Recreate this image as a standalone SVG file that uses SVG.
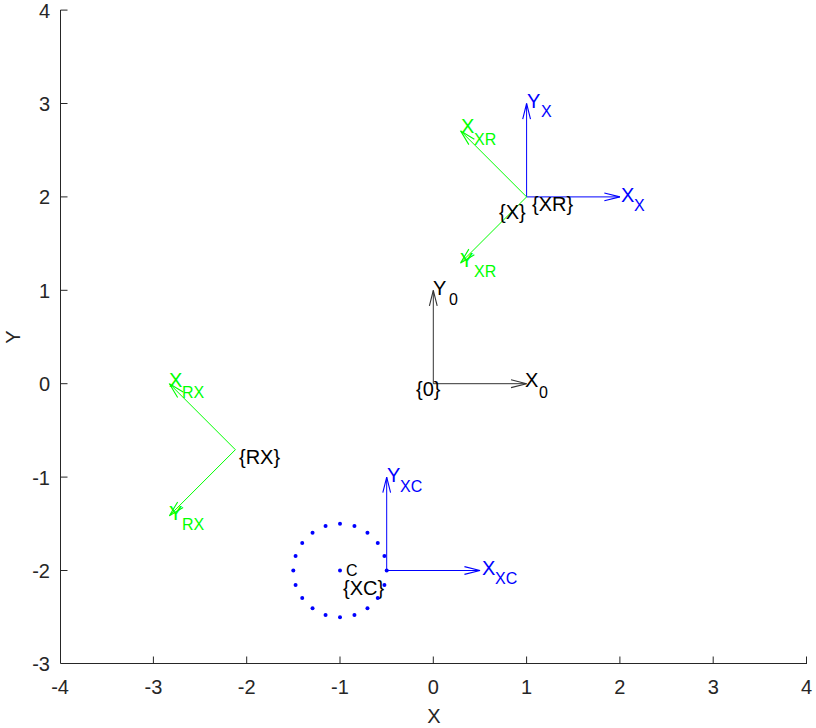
<svg xmlns="http://www.w3.org/2000/svg" width="816" height="728" viewBox="0 0 816 728">
<style>
text{font-family:"Liberation Sans",Arial,sans-serif;}
.tick{font-size:20px;fill:#262626;}
.ax{stroke:#262626;stroke-width:1;fill:none;}
.lbl{font-size:20px;}
.sub{font-size:16px;}
.k{fill:#000;}
.b{fill:#0000ff;}
.g{fill:#00ff00;}
.lk{stroke:#333;stroke-width:1;fill:none;marker-end:url(#ak);}
.lb{stroke:#0000ff;stroke-width:1;fill:none;marker-end:url(#ab);}
.lg{stroke:#00ff00;stroke-width:1;fill:none;marker-end:url(#ag);}
.dot{fill:#0000ff;}
</style>
<defs>
<marker id="ak" markerUnits="userSpaceOnUse" markerWidth="20" markerHeight="20" viewBox="-16 -6 18 12" refX="0" refY="0" orient="auto"><path d="M-14,-3.5 L0,0 L-14,3.5" fill="none" stroke="#333" stroke-width="1"/></marker>
<marker id="ab" markerUnits="userSpaceOnUse" markerWidth="20" markerHeight="20" viewBox="-16 -6 18 12" refX="0" refY="0" orient="auto"><path d="M-14,-3.5 L0,0 L-14,3.5" fill="none" stroke="#0000ff" stroke-width="1"/></marker>
<marker id="ag" markerUnits="userSpaceOnUse" markerWidth="20" markerHeight="20" viewBox="-16 -6 18 12" refX="0" refY="0" orient="auto"><path d="M-14,-3.5 L0,0 L-14,3.5" fill="none" stroke="#00ff00" stroke-width="1"/></marker>
</defs>
<rect width="816" height="728" fill="#fff"/>
<g id="axes">
<path class="ax" d="M60.5,10 V663.5 H807"/>
<path class="ax" d="M153.4,663.5 v-7 M246.7,663.5 v-7 M340,663.5 v-7 M433.3,663.5 v-7 M526.6,663.5 v-7 M619.9,663.5 v-7 M713.2,663.5 v-7 M806.5,663.5 v-7"/>
<path class="ax" d="M60.5,10.1 h7 M60.5,103.5 h7 M60.5,196.9 h7 M60.5,290.3 h7 M60.5,383.7 h7 M60.5,477.1 h7 M60.5,570.5 h7"/>
<g class="tick" text-anchor="middle">
<text x="60.1" y="694">-4</text><text x="153.4" y="694">-3</text><text x="246.7" y="694">-2</text><text x="340" y="694">-1</text><text x="433.3" y="694">0</text><text x="526.6" y="694">1</text><text x="619.9" y="694">2</text><text x="713.2" y="694">3</text><text x="806.5" y="694">4</text>
</g>
<g class="tick" text-anchor="end">
<text x="50" y="671.4">-3</text><text x="50" y="578">-2</text><text x="50" y="484.6">-1</text><text x="50" y="391.2">0</text><text x="50" y="297.8">1</text><text x="50" y="204.4">2</text><text x="50" y="111">3</text><text x="50" y="17.6">4</text>
</g>
<text class="tick" x="434" y="723" text-anchor="middle">X</text>
<text class="tick" transform="translate(20,337) rotate(-90)" text-anchor="middle">Y</text>
</g>
<g id="connectors">
<path class="lk" d="M433.3,383.7 H526.6"/>
<path class="lk" d="M433.3,383.7 V290.3"/>
<path class="lb" d="M526.6,196.9 H619.9"/>
<path class="lb" d="M526.6,196.9 V103.5"/>
<path class="lg" d="M526.6,196.9 L460.6,130.9"/>
<path class="lg" d="M526.6,196.9 L460.6,262.9"/>
<path class="lg" d="M235.4,449.7 L169.4,383.7"/>
<path class="lg" d="M235.4,449.7 L169.4,515.7"/>
<path class="lb" d="M386.7,570.5 H480"/>
<path class="lb" d="M386.7,570.5 V477.1"/>
</g>
<g id="frame0">
<text class="lbl k" x="525" y="387">X<tspan class="sub" x="539" y="398">0</tspan></text>
<text class="lbl k" x="433" y="295">Y<tspan class="sub" x="449" y="305">0</tspan></text>
<text class="lbl k" x="416" y="396">{0}</text>
</g>
<g id="frameX">
<text class="lbl b" x="527" y="108">Y<tspan class="sub" x="541" y="117">X</tspan></text>
<text class="lbl b" x="621" y="202">X<tspan class="sub" x="634" y="211">X</tspan></text>
<text class="lbl k" x="499" y="219">{X}</text>
</g>
<g id="frameXR">
<text class="lbl g" x="461" y="133">X<tspan class="sub" x="474" y="145">XR</tspan></text>
<text class="lbl g" x="460" y="267">Y<tspan class="sub" x="474" y="277">XR</tspan></text>
<text class="lbl k" x="532" y="211">{XR}</text>
</g>
<g id="frameRX">
<text class="lbl g" x="169" y="387">X<tspan class="sub" x="182" y="398">RX</tspan></text>
<text class="lbl g" x="169" y="520">Y<tspan class="sub" x="182" y="530">RX</tspan></text>
<text class="lbl k" x="239" y="464">{RX}</text>
</g>
<g id="frameXC">
<text class="lbl b" x="482" y="575">X<tspan class="sub" x="495" y="584">XC</tspan></text>
<text class="lbl b" x="387" y="482">Y<tspan class="sub" x="400" y="492">XC</tspan></text>
<text class="lbl k" x="343" y="595">{XC}</text>
</g>
<g id="circleC">
<circle class="dot" cx="386.7" cy="570.5" r="2"/>
<circle class="dot" cx="384.42" cy="584.93" r="2"/>
<circle class="dot" cx="377.78" cy="597.95" r="2"/>
<circle class="dot" cx="367.45" cy="608.28" r="2"/>
<circle class="dot" cx="354.43" cy="614.92" r="2"/>
<circle class="dot" cx="340" cy="617.2" r="2"/>
<circle class="dot" cx="325.57" cy="614.92" r="2"/>
<circle class="dot" cx="312.55" cy="608.28" r="2"/>
<circle class="dot" cx="302.22" cy="597.95" r="2"/>
<circle class="dot" cx="295.58" cy="584.93" r="2"/>
<circle class="dot" cx="293.3" cy="570.5" r="2"/>
<circle class="dot" cx="295.58" cy="556.07" r="2"/>
<circle class="dot" cx="302.22" cy="543.05" r="2"/>
<circle class="dot" cx="312.55" cy="532.72" r="2"/>
<circle class="dot" cx="325.57" cy="526.08" r="2"/>
<circle class="dot" cx="340" cy="523.8" r="2"/>
<circle class="dot" cx="354.43" cy="526.08" r="2"/>
<circle class="dot" cx="367.45" cy="532.72" r="2"/>
<circle class="dot" cx="377.78" cy="543.05" r="2"/>
<circle class="dot" cx="384.42" cy="556.07" r="2"/>
<circle class="dot" cx="340" cy="570.5" r="2"/>
<text class="k" x="346" y="576" font-size="16">C</text>
</g>
</svg>
